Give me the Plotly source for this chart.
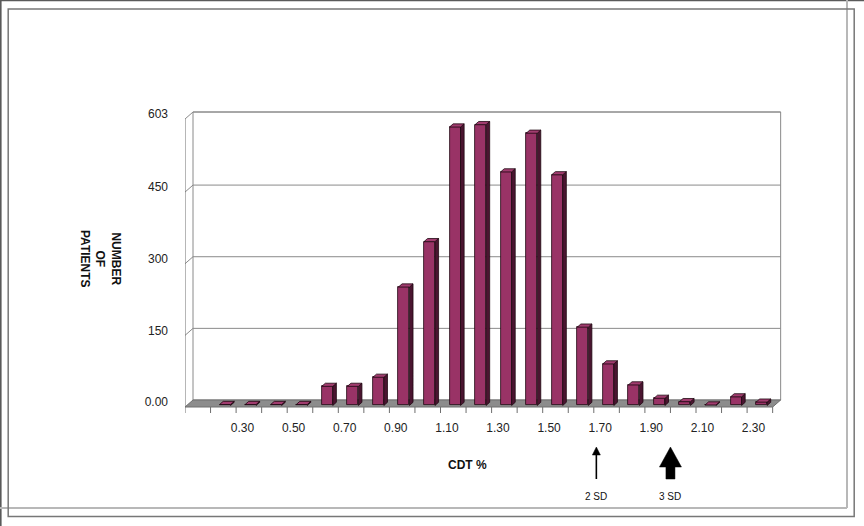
import plotly.graph_objects as go

# CDT % histogram: one bar per 0.10 bin (lower edge of each bin)
bin_start = [0.20, 0.30, 0.40, 0.50, 0.60, 0.70, 0.80, 0.90, 1.00, 1.10, 1.20,
             1.30, 1.40, 1.50, 1.60, 1.70, 1.80, 1.90, 2.00, 2.10, 2.20, 2.30]
patients = [2, 2, 2, 2, 40, 40, 59, 248, 343, 583, 588,
            489, 570, 483, 164, 87, 43, 15, 8, 1, 18, 7]

x_tick_at = [0.30, 0.50, 0.70, 0.90, 1.10, 1.30, 1.50, 1.70, 1.90, 2.10, 2.30]
x_tick_text = ["0.30", "0.50", "0.70", "0.90", "1.10", "1.30",
               "1.50", "1.70", "1.90", "2.10", "2.30"]
y_tick_vals = [0, 150, 300, 450, 603]
y_tick_text = ["0.00", "150", "300", "450", "603"]

sd_pos = [1.71, 2.00]
sd_text = ["2 SD", "3 SD"]

W, H = 864, 526
BIN = 0.10
X0, X1 = 0.10, 2.40          # category axis extent
PX_X = 255.5                 # pixels per CDT unit
PX_Y = 0.4776                # pixels per patient
DX = 8 / PX_X                # depth of the 3D box
DY = 7 / PX_Y
D0, DD = 0.22, 0.45          # bar front depth / bar thickness
BW = 0.043                   # bar width

FONT = "Liberation Sans, Arial, sans-serif"
BAR = "#993366"
SIDE = "#4a1530"
EDGE = "#1f0712"
GRID = "#8a8a8a"


def px(x):
    return x / W


def py(y):
    return 1 - y / H


fig = go.Figure()

# front faces of the bars
centers = [s + BIN / 2 + D0 * DX for s in bin_start]
fig.add_trace(go.Bar(
    x=centers, y=patients, base=D0 * DY, width=BW,
    marker=dict(color=BAR, line=dict(color=EDGE, width=0.8)),
    hoverinfo="skip", showlegend=False
))

# tops and right sides for the 3D look
top_x, top_y, side_x, side_y = [], [], [], []
for c, v in zip(centers, patients):
    xl, xr = c - BW / 2, c + BW / 2
    yb, yt = D0 * DY, D0 * DY + v
    ox, oy = DD * DX, DD * DY
    top_x += [xl, xr, xr + ox, xl + ox, xl, None]
    top_y += [yt, yt, yt + oy, yt + oy, yt, None]
    side_x += [xr, xr, xr + ox, xr + ox, xr, None]
    side_y += [yb, yt, yt + oy, yb + oy, yb, None]

fig.add_trace(go.Scatter(x=side_x, y=side_y, mode="lines", fill="toself",
                         fillcolor=SIDE, line=dict(color=EDGE, width=0.8),
                         hoverinfo="skip", showlegend=False))
fig.add_trace(go.Scatter(x=top_x, y=top_y, mode="lines", fill="toself",
                         fillcolor="#a13c6f", line=dict(color=EDGE, width=0.8),
                         hoverinfo="skip", showlegend=False))

shapes = []
top = y_tick_vals[-1]

# back wall + gridlines
shapes.append(dict(type="path", xref="x", yref="y", layer="below",
                   path=f"M{X0+DX},{DY} L{X1+DX},{DY} L{X1+DX},{top+DY} L{X0+DX},{top+DY} Z",
                   fillcolor="white", line=dict(color=GRID, width=1)))
for v in y_tick_vals[1:]:
    shapes.append(dict(type="line", xref="x", yref="y", layer="below",
                       x0=X0 + DX, x1=X1 + DX, y0=v + DY, y1=v + DY,
                       line=dict(color=GRID, width=1)))
    shapes.append(dict(type="line", xref="x", yref="y", layer="below",
                       x0=X0, x1=X0 + DX, y0=v, y1=v + DY,
                       line=dict(color=GRID, width=1)))

# front value axis and its ticks
shapes.append(dict(type="line", xref="x", yref="y", x0=X0, x1=X0, y0=0, y1=top,
                   line=dict(color="#6e6e6e", width=1)))
for v in y_tick_vals:
    shapes.append(dict(type="line", xref="x", yref="y", x0=X0 - 5 / PX_X, x1=X0,
                       y0=v, y1=v, line=dict(color="#6e6e6e", width=1)))

# floor
shapes.append(dict(type="path", xref="x", yref="y", layer="below",
                   path=f"M{X0},0 L{X1},0 L{X1+DX},{DY} L{X0+DX},{DY} Z",
                   fillcolor="#8c8c8c", line=dict(color="#6e6e6e", width=1)))

# category ticks on the front edge
n_edges = round((X1 - X0) / BIN) + 1
for i in range(n_edges):
    e = X0 + i * BIN
    shapes.append(dict(type="line", xref="x", yref="y", x0=e, x1=e,
                       y0=0, y1=-6 / PX_Y, line=dict(color="#6e6e6e", width=1)))

# SD arrows under the axis
thin, thick = sd_pos
hw = 4 / PX_X
shapes.append(dict(type="line", xref="x", yref="paper", x0=thin, x1=thin,
                   y0=py(479), y1=py(454), line=dict(color="black", width=1.6)))
shapes.append(dict(type="path", xref="x", yref="paper", fillcolor="black",
                   line=dict(color="black", width=0.5),
                   path=f"M{thin-hw},{py(455)} L{thin+hw},{py(455)} L{thin},{py(447)} Z"))
hh, sw = 11 / PX_X, 4.5 / PX_X
shapes.append(dict(type="path", xref="x", yref="paper", fillcolor="black",
                   line=dict(color="black", width=0.5),
                   path=(f"M{thick-sw},{py(479)} L{thick+sw},{py(479)} L{thick+sw},{py(467)} "
                         f"L{thick+hh},{py(467)} L{thick},{py(447)} L{thick-hh},{py(467)} "
                         f"L{thick-sw},{py(467)} Z")))

# picture frames
shapes += [
    dict(type="line", xref="paper", yref="paper", x0=px(0.8), x1=px(0.8), y0=0, y1=1,
         line=dict(color="#5a5a5a", width=1.6)),
    dict(type="line", xref="paper", yref="paper", x0=0, x1=1, y0=py(0.6), y1=py(0.6),
         line=dict(color="#5a5a5a", width=1.4)),
    dict(type="line", xref="paper", yref="paper", x0=px(847), x1=px(847), y0=py(0), y1=py(508),
         line=dict(color="#b8b8b8", width=2)),
    dict(type="line", xref="paper", yref="paper", x0=px(0), x1=px(847), y0=py(508), y1=py(508),
         line=dict(color="#b8b8b8", width=2)),
    dict(type="rect", xref="paper", yref="paper", x0=px(8.2), x1=px(854.2), y0=py(9), y1=py(516.5),
         line=dict(color="#777777", width=1.5)),
]

annotations = [
    dict(text="<b>NUMBER<br>OF<br>PATIENTS</b>", x=px(100), y=py(259), xref="paper", yref="paper",
         xanchor="center", yanchor="middle",
         textangle=90, showarrow=False, align="center",
         font=dict(family=FONT, size=12, color="#111111")),
    dict(text="<b>CDT %</b>", x=px(467), y=py(465), xref="paper", yref="paper",
         xanchor="center", yanchor="middle",
         showarrow=False, font=dict(family=FONT, size=12, color="#111111")),
]
for s, t in zip(sd_pos, sd_text):
    annotations.append(dict(text=t, x=s, y=py(496), xref="x", yref="paper", showarrow=False,
                            xanchor="center", yanchor="middle",
                            font=dict(family=FONT, size=10, color="#111111")))

fig.update_layout(
    width=W, height=H, autosize=False,
    margin=dict(l=0, r=0, t=0, b=0),
    paper_bgcolor="white", plot_bgcolor="white",
    shapes=shapes, annotations=annotations,
    bargap=0, showlegend=False,
    xaxis=dict(domain=[px(185), px(790)], range=[X0, X0 + 605 / PX_X],
               tickvals=[v + 0.025 for v in x_tick_at], ticktext=x_tick_text,
               showgrid=False, zeroline=False, showline=False, ticks="",
               ticklabelstandoff=4,
               tickfont=dict(family=FONT, size=12, color="#222222")),
    yaxis=dict(domain=[py(415), py(100)], range=[-8 / PX_Y, 307 / PX_Y],
               tickvals=[v + 0.7 * DY for v in y_tick_vals], ticktext=y_tick_text,
               showgrid=False, zeroline=False, showline=False, ticks="",
               ticklabelstandoff=16,
               tickfont=dict(family=FONT, size=12, color="#222222")),
)

# page body has a default 8px margin; drop it so the figure fills the window
fig.write_html("out.html", config={"displayModeBar": False},
               post_script="document.body.style.margin='0';")
